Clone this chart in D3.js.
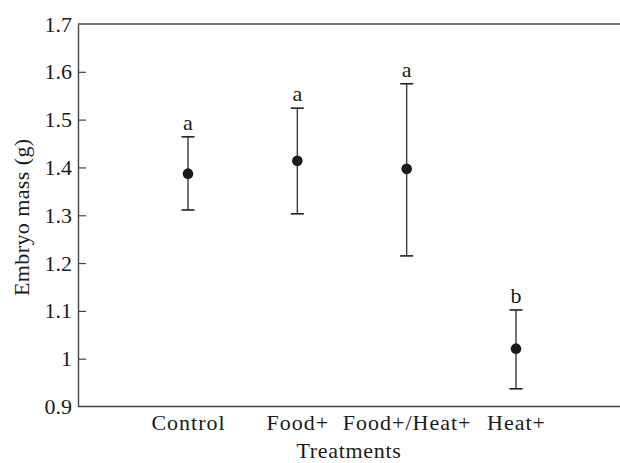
<!DOCTYPE html>
<html>
<head>
<meta charset="utf-8">
<script src="https://cdn.jsdelivr.net/npm/d3@7"></script>
<style>
  body { margin: 0; background: #fff; }
  svg { display: block; }
  text { font-family: "Liberation Serif", "Times New Roman", serif; fill: #1a1a1a; }
</style>
</head>
<body>
<svg></svg>
<script>
const width = 620;
const height = 463;

// data
const treatments = ['Control', 'Food+', 'Food+/Heat+', 'Heat+'];
const means = [1.387, 1.414, 1.397, 1.021];
const upper = [1.464, 1.524, 1.575, 1.102];
const lower = [1.311, 1.303, 1.215, 0.937];
const letters = ['a', 'a', 'a', 'b'];
const yTicks = [0.9, 1.0, 1.1, 1.2, 1.3, 1.4, 1.5, 1.6, 1.7];

const plotLeft = 78, plotRight = 620, plotTop = 24, plotBottom = 406.5;

const svg = d3.select('svg')
	.attr('width', width)
	.attr('height', height);

const x = d3.scalePoint()
	.domain(treatments)
	.range([188, 516]);

const y = d3.scaleLinear()
	.domain([0.9, 1.7])
	.range([plotBottom, plotTop]);

// y axis, ticks pointing inward
const yAxis = svg.append('g')
	.attr('transform', `translate(${plotLeft},0)`)
	.call(d3.axisLeft(y)
		.tickValues(yTicks)
		.tickFormat(d3.format('.2~f'))
		.tickSizeInner(-8)
		.tickSizeOuter(0)
		.tickPadding(6));
yAxis.select('.domain').attr('stroke', '#444').attr('stroke-width', 1.4);
yAxis.selectAll('.tick line').attr('stroke', '#444').attr('stroke-width', 1.2);
yAxis.selectAll('.tick text')
	.attr('font-size', 22)
	.attr('font-family', '"Liberation Serif", serif')
	.attr('fill', '#1a1a1a');
yAxis.selectAll('.tick')
	.filter(d => d === 0.9 || d === 1.7)
	.select('line').remove();

// top line
svg.append('line')
	.attr('x1', plotLeft).attr('x2', plotRight)
	.attr('y1', y(1.7)).attr('y2', y(1.7))
	.attr('stroke', '#444').attr('stroke-width', 1.4);

const xAxis = svg.append('g')
	.attr('transform', `translate(0,${plotBottom})`)
	.call(d3.axisBottom(x).tickSize(0).tickPadding(12));
xAxis.select('.domain').attr('d', `M${plotLeft},0H${plotRight}`).attr('stroke', '#444').attr('stroke-width', 1.4);
xAxis.selectAll('.tick text')
	.attr('font-size', 22)
	.attr('font-family', '"Liberation Serif", serif')
	.attr('letter-spacing', 1)
	.attr('fill', '#1a1a1a')
	.attr('dy', null)
	.attr('y', 23.5);

// axis titles
svg.append('text')
	.attr('x', (plotLeft + plotRight) / 2)
	.attr('y', 458)
	.attr('text-anchor', 'middle')
	.attr('font-size', 22)
	.attr('letter-spacing', 0.7)
	.text('Treatments');

svg.append('text')
	.attr('transform', `translate(29,${(plotTop + plotBottom) / 2 + 2}) rotate(-90)`)
	.attr('text-anchor', 'middle')
	.attr('font-size', 22)
	.attr('letter-spacing', 0.4)
	.text('Embryo mass (g)');

// error bars
const groups = svg.append('g').selectAll('g')
	.data(treatments)
	.enter()
	.append('g');

groups.append('line')
	.attr('x1', d => x(d)).attr('x2', d => x(d))
	.attr('y1', (d, i) => y(upper[i]))
	.attr('y2', (d, i) => y(lower[i]))
	.attr('stroke', '#3a3a3a').attr('stroke-width', 1.4);

groups.append('line')
	.attr('x1', d => x(d) - 6.5).attr('x2', d => x(d) + 6.5)
	.attr('y1', (d, i) => y(upper[i]))
	.attr('y2', (d, i) => y(upper[i]))
	.attr('stroke', '#222').attr('stroke-width', 1.6);

groups.append('line')
	.attr('x1', d => x(d) - 6.5).attr('x2', d => x(d) + 6.5)
	.attr('y1', (d, i) => y(lower[i]))
	.attr('y2', (d, i) => y(lower[i]))
	.attr('stroke', '#222').attr('stroke-width', 1.6);

groups.append('circle')
	.attr('cx', d => x(d))
	.attr('cy', (d, i) => y(means[i]))
	.attr('r', 5.3)
	.attr('fill', '#1a1a1a');

groups.append('text')
	.attr('x', d => x(d))
	.attr('y', (d, i) => y(upper[i]) - 7)
	.attr('text-anchor', 'middle')
	.attr('font-size', 22)
	.text((d, i) => letters[i]);
</script>
</body>
</html>
